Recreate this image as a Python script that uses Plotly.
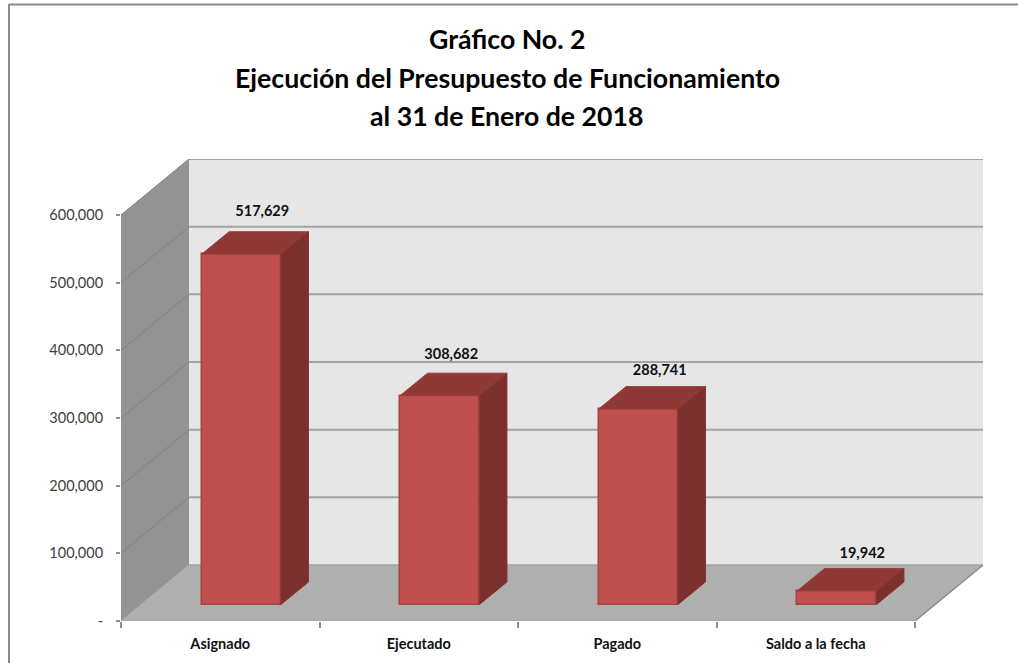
import plotly.graph_objects as go

# ---- data ----
categories = ["Asignado", "Ejecutado", "Pagado", "Saldo a la fecha"]
values = [517629, 308682, 288741, 19942]
value_labels = ["517,629", "308,682", "288,741", "19,942"]
y_ticks = [0, 100000, 200000, 300000, 400000, 500000, 600000]
y_tick_labels = ["-", "100,000", "200,000", "300,000", "400,000", "500,000", "600,000"]
title_lines = ["Gráfico No. 2", "Ejecución del Presupuesto de Funcionamiento", "al 31 de Enero de 2018"]

# ---- layout geometry (pixels) ----
W, H = 1018, 663
PX0, PY0 = 121, 621          # origin of the front plane
UX = 198.5                   # pixels per category
UY = 406 / 600000            # pixels per value unit
DEPTH_PX = (68, 56)
GAP_PX = (21, 16.5)          # front gap in the depth direction
BAR_DEPTH_PX = (27.5, 22.5)
BAR_W = 0.4
LABEL_NUDGE_PX = [(21, 19.5), (11.5, 18), (21.5, 15.5), (25.5, 14.5)]
TITLE_Y_PX = [39, 78, 116]

DX, DY = DEPTH_PX[0] / UX, DEPTH_PX[1] / UY
GX, GY = GAP_PX[0] / UX, GAP_PX[1] / UY
BX, BY = BAR_DEPTH_PX[0] / UX, BAR_DEPTH_PX[1] / UY
n = len(categories)
xmax, ymax = n + DX, y_ticks[-1] + DY

FRONT = "#C0504D"
TOP = "#8F3937"
SIDE = "#7B302E"
EDGE = "#A9423F"
BACK = "#E6E6E6"
LEFT = "#939393"
FLOOR = "#AFAFAF"
GRID = "#A3A3A3"
FONT = "Lato"


def poly(points):
    return "M" + " L".join(f"{x},{y}" for x, y in points) + " Z"


shapes = []


def add_poly(points, fill, line="rgba(0,0,0,0)", lw=0):
    shapes.append(dict(type="path", xref="x", yref="y", layer="below", path=poly(points),
                       fillcolor=fill, line=dict(color=line, width=lw)))


def add_line(p, q, color, lw):
    shapes.append(dict(type="line", xref="x", yref="y", layer="below", x0=p[0], y0=p[1], x1=q[0], y1=q[1],
                       line=dict(color=color, width=lw)))


add_poly([(DX, DY), (xmax, DY), (xmax, ymax), (DX, ymax)], BACK)
add_poly([(0, 0), (DX, DY), (DX, ymax), (0, y_ticks[-1])], LEFT)
add_poly([(0, 0), (n, 0), (xmax, DY), (DX, DY)], FLOOR)
for v in y_ticks[1:]:
    add_line((0, v), (DX, v + DY), "#808080", 1)
    add_line((DX, v + DY), (xmax, v + DY), GRID, 2)
add_line((DX, DY), (xmax, DY), GRID, 1.5)
add_line((0, 0), (DX, DY), "#A8A8A8", 1)
add_line((n, 0), (xmax, DY), "#8C8C8C", 1.5)

fig = go.Figure()

bar_x = [i + 0.5 + GX for i in range(n)]
fig.add_trace(go.Bar(x=bar_x, y=values, base=GY, width=BAR_W,
                     marker=dict(color=FRONT, line=dict(color=EDGE, width=1.5)),
                     hoverinfo="skip", showlegend=False))

for cx, v in zip(bar_x, values):
    l, r, b, t = cx - BAR_W / 2, cx + BAR_W / 2, GY, GY + v
    fig.add_trace(go.Scatter(x=[l, r, r + BX, l + BX, l], y=[t, t, t + BY, t + BY, t],
                             mode="lines", fill="toself", fillcolor=TOP,
                             line=dict(color="#9A3F3C", width=1), hoverinfo="skip", showlegend=False))
    fig.add_trace(go.Scatter(x=[r, r + BX, r + BX, r, r], y=[b, b + BY, t + BY, t, b],
                             mode="lines", fill="toself", fillcolor=SIDE,
                             line=dict(color="#84332F", width=1), hoverinfo="skip", showlegend=False))

fig.add_trace(go.Scatter(
    x=[cx + nudge[0] / UX for cx, nudge in zip(bar_x, LABEL_NUDGE_PX)],
    y=[GY + v + BY + nudge[1] / UY for v, nudge in zip(values, LABEL_NUDGE_PX)],
    mode="text", text=value_labels, textposition="middle center",
    textfont=dict(family=FONT, size=14.5, color="#111111", weight="bold"),
    hoverinfo="skip", showlegend=False, cliponaxis=False))

# axis lines and category-boundary ticks
fig.add_trace(go.Scatter(x=[0, n], y=[0, 0], mode="lines", line=dict(color="#A8A8A8", width=2),
                         xaxis="x2", hoverinfo="skip", showlegend=False))

# outer frame of the chart area
to_px = lambda px: (px - PX0) / (xmax * UX)
to_py = lambda py: (PY0 - py) / (ymax * UY)
shapes.append(dict(type="line", xref="paper", yref="paper", x0=to_px(9), x1=to_px(9), y0=to_py(4), y1=to_py(H),
                   line=dict(color="#8C8C8C", width=2)))
shapes.append(dict(type="line", xref="paper", yref="paper", x0=to_px(9), x1=to_px(W), y0=to_py(4.5), y1=to_py(4.5),
                   line=dict(color="#8C8C8C", width=2)))

annotations = [dict(text=t, xref="paper", yref="paper", x=to_px(507), y=to_py(y), xanchor="center", yanchor="middle",
                    showarrow=False, font=dict(family=FONT, size=26.7, color="#000000", weight="bold"))
               for t, y in zip(title_lines, TITLE_Y_PX)]

fig.update_layout(
    width=W, height=H, autosize=False,
    margin=dict(l=PX0, r=W - PX0 - xmax * UX, t=PY0 - ymax * UY, b=H - PY0, pad=0, autoexpand=False),
    paper_bgcolor="white", plot_bgcolor="white",
    showlegend=False, shapes=shapes, annotations=annotations, bargap=0,
    xaxis=dict(range=[0, xmax], tickmode="array", tickvals=[i + 0.5 for i in range(n)], ticktext=categories,
               ticks="", showgrid=False, zeroline=False, showline=False, ticklabelstandoff=12,
               tickfont=dict(family=FONT, size=14.5, color="#111111", weight="bold")),
    xaxis2=dict(range=[0, xmax], overlaying="x", side="bottom", tickmode="array", tickvals=list(range(n + 1)),
                ticktext=[""] * (n + 1), ticks="outside", ticklen=6, tickwidth=1.5, tickcolor="#8C8C8C",
                showgrid=False, zeroline=False, showline=False),
    yaxis=dict(range=[0, ymax], tickmode="array", tickvals=y_ticks, ticktext=y_tick_labels,
               ticks="outside", ticklen=4, tickwidth=1.5, tickcolor="#8C8C8C", ticklabelstandoff=10,
               showgrid=False, zeroline=False, showline=False,
               tickfont=dict(family=FONT, size=14.5, color="#404040")),
)

fig.write_html("out.html", post_script="document.body.style.margin='0';", config=dict(displayModeBar=False))
